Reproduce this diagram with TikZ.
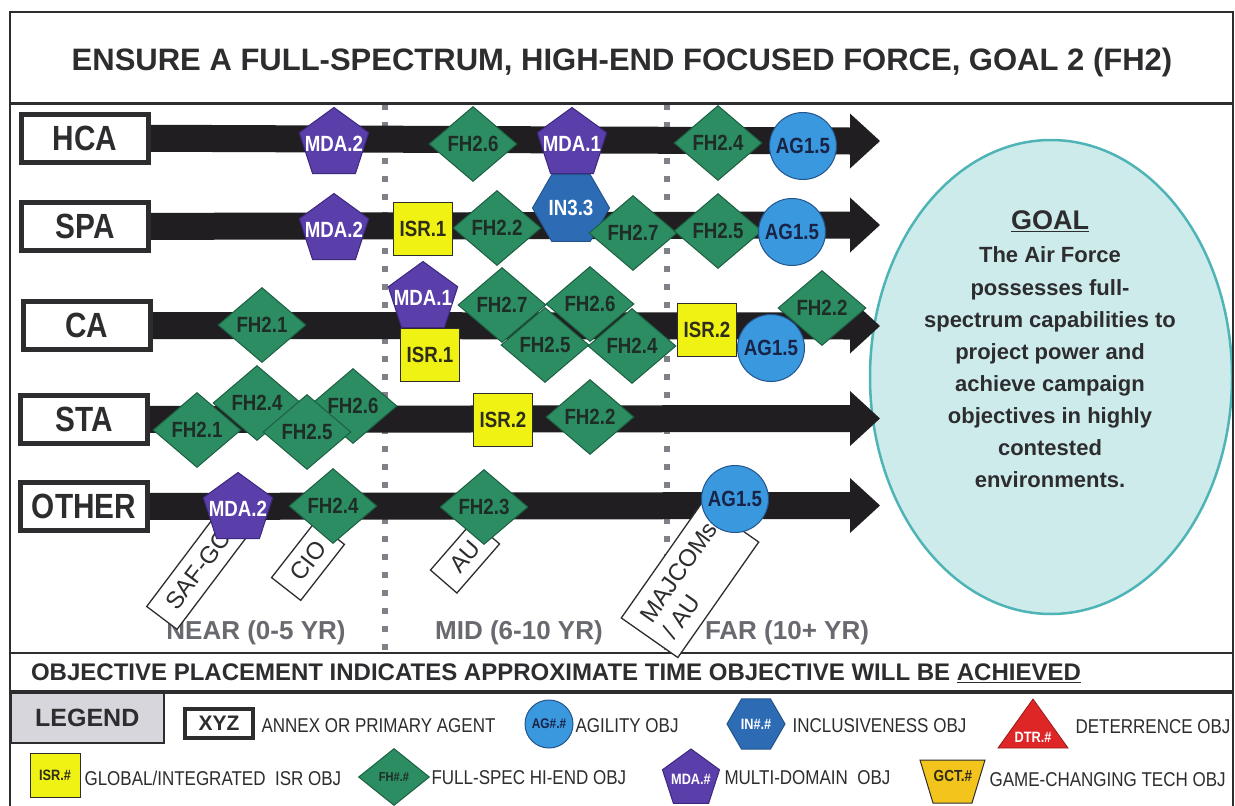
\documentclass[tikz,border=0pt]{standalone}
\usepackage{fontspec}
\setmainfont{Liberation Sans}
\newfontfamily\nf[FakeStretch=0.85]{Liberation Sans}
\usetikzlibrary{shapes.geometric}
\pgfdeclarelayer{back}
\pgfdeclarelayer{bg}
\pgfsetlayers{back,bg,main}
\newcommand\setfs[1]{\fontsize{#1}{#1}\selectfont}
\definecolor{fhgreen}{RGB}{44,140,98}
\definecolor{fhline}{RGB}{28,95,65}
\definecolor{fhtext}{RGB}{30,45,38}
\definecolor{mdapurple}{RGB}{90,62,170}
\definecolor{mdaline}{RGB}{60,40,125}
\definecolor{agblue}{RGB}{58,152,222}
\definecolor{agline}{RGB}{35,85,140}
\definecolor{agtext}{RGB}{25,35,70}
\definecolor{inblue}{RGB}{45,108,180}
\definecolor{isryellow}{RGB}{240,242,20}
\definecolor{isrtext}{RGB}{45,45,25}
\definecolor{barcol}{RGB}{32,30,32}
\definecolor{inkcol}{RGB}{45,45,48}
\definecolor{dotgray}{RGB}{128,128,136}
\definecolor{timegray}{RGB}{105,105,112}
\definecolor{goalfill}{RGB}{206,235,236}
\definecolor{goalline}{RGB}{78,180,182}
\definecolor{legendgray}{RGB}{214,214,220}
\definecolor{dtrred}{RGB}{222,38,38}
\definecolor{gctgold}{RGB}{242,196,28}
\tikzset{
 fhobj/.style={diamond, draw=fhline, line width=1pt, fill=fhgreen, inner sep=0pt, minimum width=88pt, minimum height=75pt, text=fhtext, font=\setfs{22}\nf\bfseries},
 mdaobj/.style={regular polygon, regular polygon sides=5, draw=mdaline, line width=1pt, fill=mdapurple, inner sep=-14pt, minimum size=73pt, text=white, font=\setfs{22}\nf\bfseries},
 agobj/.style={circle, draw=agline, line width=1pt, fill=agblue, inner sep=0pt, minimum size=67pt, text=agtext, font=\setfs{22}\nf\bfseries},
 isrobj/.style={rectangle, draw=inkcol, line width=1pt, fill=isryellow, inner sep=0pt, minimum width=59pt, minimum height=53pt, text=isrtext, font=\setfs{22}\nf\bfseries},
 inobj/.style={regular polygon, regular polygon sides=6, draw=agline, line width=1pt, fill=inblue, inner sep=-12pt, minimum size=77pt, text=white, font=\setfs{22}\nf\bfseries},
 rowlab/.style={rectangle, draw=inkcol, line width=5pt, fill=white, minimum width=127pt, minimum height=48pt, inner sep=0pt, text=inkcol, font=\setfs{35}\nf\bfseries},
 tagbox/.style={rectangle, draw=inkcol, line width=1.3pt, fill=white, inner sep=0pt, text=inkcol, font=\setfs{24}},
 bar/.style={barcol, line width=27pt},
 timelab/.style={text=timegray, font=\setfs{26}\bfseries},
 legtext/.style={anchor=west, text=inkcol, font=\setfs{20}\nf},
 dotline/.style={dotgray, line width=6pt, dash pattern=on 6pt off 12pt},
}
\newcommand\rowarrow[2]{%
 \draw[bar] (#1.center) -- (#2);
 \fill[barcol] ([yshift=27.5pt]#2) -- ([xshift=30pt]#2) -- ([yshift=-27.5pt]#2) -- cycle;}
\begin{document}
\begin{tikzpicture}[x=1pt,y=-1pt]
\useasboundingbox (0,0) rectangle (1235,806);
\begin{pgfonlayer}{back}
 \fill[white] (0,0) rectangle (1235,806);
 \draw[dotline] (385,104) -- (385,652);
 \draw[dotline] (667,104) -- (667,652);
 \node[ellipse, draw=goalline, line width=2.5pt, fill=goalfill, minimum width=362pt, minimum height=474pt] (goal) at (1051,377) {};
\end{pgfonlayer}
% frame
\draw[inkcol, line width=2.5pt] (10,12) rectangle (1233,830);
\draw[inkcol, line width=3pt] (10,103) -- (1233,103);
\draw[inkcol, line width=1.5pt] (10,653) -- (1233,653);
\draw[inkcol, line width=3.5pt] (10,692) -- (1233,692);
\node[font=\setfs{31}\bfseries, text=inkcol] (title) at (622,62) {ENSURE A FULL-SPECTRUM, HIGH-END FOCUSED FORCE, GOAL 2 (FH2)};
\node[font=\setfs{24}\bfseries, text=inkcol] (banner) at (556,673) {OBJECTIVE PLACEMENT INDICATES APPROXIMATE TIME OBJECTIVE WILL BE \underline{ACHIEVED}};
% goal text
\node[font=\setfs{27}\bfseries, text=inkcol] (goalhead) at (1050,221) {\underline{GOAL}};
\node[font={\fontsize{22}{32.14}\selectfont\bfseries}, text=inkcol, align=center] (goaltext) at (1050,367.5) {The Air Force\\possesses full-\\spectrum capabilities to\\project power and\\achieve campaign\\objectives in highly\\contested\\environments.};
% row labels
\node[rowlab] (hca) at (85,138) {HCA};
\node[rowlab] (spa) at (85,226.5) {SPA};
\node[rowlab] (ca) at (87,325.5) {CA};
\node[rowlab] (sta) at (84,419.5) {STA};
\node[rowlab] (other) at (84,506.5) {OTHER};
\coordinate (hcaend) at (850,141);
\coordinate (spaend) at (850,225);
\coordinate (caend) at (850,326);
\coordinate (staend) at (850,418.5);
\coordinate (otherend) at (850,505.5);
\begin{pgfonlayer}{bg}
 \rowarrow{hca}{hcaend}
 \rowarrow{spa}{spaend}
 \rowarrow{ca}{caend}
 \rowarrow{sta}{staend}
 \rowarrow{other}{otherend}
\end{pgfonlayer}
% time labels
\node[timelab] (near) at (256,633) {NEAR (0-5 YR)};
\node[timelab] (mid) at (519,633) {MID (6-10 YR)};
\node[timelab] (far) at (787,633) {FAR (10+ YR)};
% agent tags
\node[tagbox, rotate=53, minimum width=120pt, minimum height=38pt] (tagsaf) at (198,570) {SAF-GC};
\node[tagbox, rotate=52, minimum width=71pt, minimum height=37pt] (tagcio) at (308,561) {CIO};
\node[tagbox, rotate=49, minimum width=65pt, minimum height=35pt] (tagau) at (465,557) {AU};
\node[tagbox, rotate=55, minimum width=141pt, minimum height=69pt, align=left, font=\fontsize{24}{28}\selectfont] (tagmaj) at (690,580) {MAJCOMs\\/ AU};
% HCA row
\node[mdaobj] (hm2) at (334,144) {MDA.2};
\node[fhobj] (hf6) at (473,144) {FH2.6};
\node[mdaobj] (hm1) at (572,144) {MDA.1};
\node[fhobj] (hf4) at (718,143) {FH2.4};
\node[agobj] (ha) at (803,146) {AG1.5};
% SPA row
\node[mdaobj] (sm2) at (334,230) {MDA.2};
\node[isrobj] (si1) at (423,229) {ISR.1};
\node[fhobj] (sf2) at (497,228) {FH2.2};
\node[inobj] (sin) at (571,208) {IN3.3};
\node[fhobj] (sf7) at (633,233) {FH2.7};
\node[fhobj] (sf5) at (718,231) {FH2.5};
\node[agobj] (sa) at (792,232) {AG1.5};
% CA row
\node[fhobj] (cf1) at (262,325) {FH2.1};
\node[mdaobj] (cm1) at (423,298) {MDA.1};
\node[isrobj] (ci1) at (430,355) {ISR.1};
\node[fhobj] (cf7) at (502,305) {FH2.7};
\node[fhobj] (cf6) at (590,304) {FH2.6};
\node[fhobj] (cf5) at (545,345) {FH2.5};
\node[fhobj] (cf4) at (632,346) {FH2.4};
\node[isrobj] (ci2) at (707,330) {ISR.2};
\node[agobj] (ca15) at (771,348) {AG1.5};
\node[fhobj] (cf2) at (822,308) {FH2.2};
% STA row
\node[fhobj] (tf4) at (257,403) {FH2.4};
\node[fhobj] (tf1) at (197,430) {FH2.1};
\node[fhobj] (tf6) at (353,406) {FH2.6};
\node[fhobj] (tf5) at (307,432) {FH2.5};
\node[isrobj] (ti2) at (503,420) {ISR.2};
\node[fhobj] (tf2) at (590,417) {FH2.2};
% OTHER row
\node[mdaobj] (om2) at (238,509) {MDA.2};
\node[fhobj] (of4) at (333,506) {FH2.4};
\node[fhobj] (of3) at (484,507) {FH2.3};
\node[agobj] (oa) at (735,499) {AG1.5};
% legend
\node[rectangle, draw=inkcol, line width=1.5pt, fill=legendgray, minimum width=153pt, minimum height=50pt, anchor=north west, font=\setfs{25}\bfseries, text=inkcol] (legend) at (10,692) {LEGEND};
\node[rectangle, draw=inkcol, line width=3.5pt, minimum width=68pt, minimum height=29pt, inner sep=0pt, font=\setfs{21}\bfseries, text=inkcol] (xyz) at (219,723.5) {XYZ};
\node[legtext] (annex) at (258,726) {ANNEX OR PRIMARY AGENT};
\node[agobj, minimum size=48pt, font=\setfs{14}\nf\bfseries] (legag) at (549,724) {AG\#.\#};
\node[legtext] (agility) at (572,726) {AGILITY OBJ};
\node[inobj, minimum size=58pt, font=\setfs{15}\nf\bfseries] (legin) at (756,724) {IN\#.\#};
\node[legtext] (inclus) at (789,726) {INCLUSIVENESS OBJ};
\filldraw[fill=dtrred, draw=dtrred!70!black, line width=0.8pt] (998,748) -- (1033,699) -- (1068,748) -- cycle;
\node[text=white, font=\setfs{15}\nf\bfseries] (legdtr) at (1033,737) {DTR.\#};
\node[legtext] (deter) at (1072,727) {DETERRENCE OBJ};
\node[isrobj, minimum width=50pt, minimum height=44pt, font=\setfs{15}\nf\bfseries] (legisr) at (55,775) {ISR.\#};
\node[legtext] (global) at (81,778) {GLOBAL/INTEGRATED\ \ ISR OBJ};
\node[fhobj, minimum width=71pt, minimum height=57pt, font=\setfs{13}\nf\bfseries] (legfh) at (394,777) {FH\#.\#};
\node[legtext] (fullspec) at (428,778) {FULL-SPEC HI-END OBJ};
\node[mdaobj, minimum size=60pt, font=\setfs{15}\nf\bfseries] (legmda) at (691,779) {MDA.\#};
\node[legtext] (multi) at (721,778) {MULTI-DOMAIN\ \ OBJ};
\filldraw[fill=gctgold, draw=inkcol, line width=1pt] (920,760) -- (985,760) -- (972,803) -- (933,803) -- cycle;
\node[text=isrtext, font=\setfs{16}\nf\bfseries] (leggct) at (953,776) {GCT.\#};
\node[legtext] (gamech) at (986,780) {GAME-CHANGING TECH OBJ};
\end{tikzpicture}
\end{document}
